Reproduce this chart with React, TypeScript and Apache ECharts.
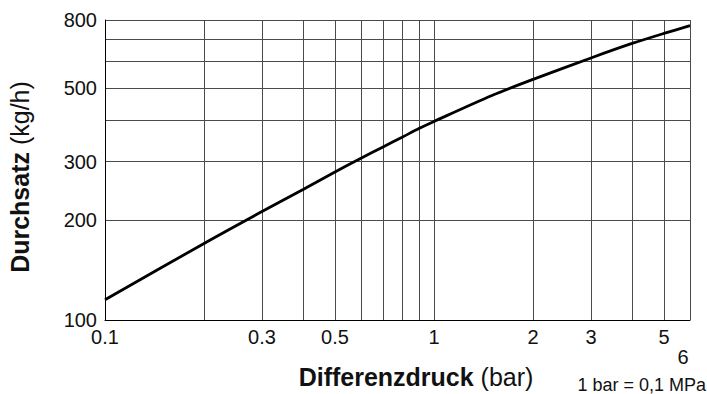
import React, { useEffect, useRef } from 'react';
import * as echarts from 'echarts';

const pressure = [0.1, 0.2, 0.3, 0.4, 0.5, 0.6, 0.7, 0.8, 0.9, 1, 1.5, 2, 3, 4, 5, 6];
const flow = [115, 170, 212, 247, 279, 307, 332, 355, 377, 396, 474, 530, 615, 680, 729, 769];
const xGridValues = [0.1, 0.2, 0.3, 0.4, 0.5, 0.6, 0.7, 0.8, 0.9, 1, 2, 3, 4, 5, 6];
const xLabelValues = [0.1, 0.3, 0.5, 1, 2, 3, 5, 6];
const yGridValues = [100, 200, 300, 400, 500, 600, 700, 800];
const yLabelValues = [100, 200, 300, 500, 800];

const FONT = '"Liberation Sans", Arial, Helvetica, sans-serif';

export default function App() {
  const ref = useRef<HTMLDivElement>(null);
  useEffect(() => {
    if (!ref.current) return;
    const chart = echarts.init(ref.current, null, { renderer: 'svg' });
    const fmt = (v: number) => String(Number(Number(v).toPrecision(3)));
    chart.setOption({
      animation: false,
      backgroundColor: '#ffffff',
      textStyle: { fontFamily: FONT },
      grid: { left: 105, right: 17, top: 20, bottom: 74, containLabel: false },
      xAxis: {
        type: 'log',
        logBase: 10,
        min: 0.1,
        max: 6,
        axisLine: { show: true, lineStyle: { color: '#000', width: 1 } },
        axisTick: { show: false, customValues: xGridValues },
        splitLine: { show: true, lineStyle: { color: '#4a4a4a', width: 1 } },
        axisLabel: {
          customValues: xLabelValues,
          hideOverlap: false,
          showMinLabel: true,
          showMaxLabel: true,
          margin: 7,
          color: '#111',
          fontSize: 20,
          fontFamily: FONT,
          formatter: (v: number) => (Math.abs(v - 6) < 1e-6 ? '{s|6}' : fmt(v)),
          rich: {
            s: { fontSize: 20, fontFamily: FONT, color: '#111', padding: [20, 14, 0, 0] },
          },
        },
      },
      yAxis: {
        type: 'log',
        logBase: 10,
        min: 100,
        max: 800,
        axisLine: { show: true, lineStyle: { color: '#000', width: 1 } },
        axisTick: { show: false, customValues: yGridValues },
        splitLine: { show: true, lineStyle: { color: '#4a4a4a', width: 1 } },
        axisLabel: {
          customValues: yLabelValues,
          hideOverlap: false,
          showMinLabel: true,
          showMaxLabel: true,
          margin: 8,
          color: '#111',
          fontSize: 20,
          fontFamily: FONT,
          formatter: (v: number) => fmt(v),
        },
      },
      series: [
        {
          type: 'line',
          data: pressure.map((p, i) => [p, flow[i]]),
          smooth: 0.3,
          showSymbol: false,
          symbol: 'none',
          lineStyle: { color: '#000', width: 2.8 },
          z: 5,
        },
      ],
      graphic: [
        {
          type: 'text',
          x: 416,
          y: 377,
          style: {
            text: '{b|Differenzdruck}{r| (bar)}',
            align: 'center',
            verticalAlign: 'middle',
            fill: '#111',
            rich: {
              b: { fontSize: 25, fontWeight: 'bold', fontFamily: FONT, fill: '#111' },
              r: { fontSize: 25, fontFamily: FONT, fill: '#111' },
            },
          },
        },
        {
          type: 'text',
          x: 20,
          y: 177,
          rotation: Math.PI / 2,
          style: {
            text: '{b|Durchsatz}{r| (kg/h)}',
            align: 'center',
            verticalAlign: 'middle',
            fill: '#111',
            rich: {
              b: { fontSize: 25, fontWeight: 'bold', fontFamily: FONT, fill: '#111' },
              r: { fontSize: 25, fontFamily: FONT, fill: '#111' },
            },
          },
        },
        {
          type: 'text',
          x: 706,
          y: 385,
          style: {
            text: '1 bar = 0,1 MPa',
            align: 'right',
            verticalAlign: 'middle',
            fontSize: 18,
            fontFamily: FONT,
            fill: '#111',
          },
        },
      ],
    });
    return () => chart.dispose();
  }, []);
  return <div ref={ref} style={{ width: 707, height: 394, position: 'absolute', left: 0, top: 0 }} />;
}
